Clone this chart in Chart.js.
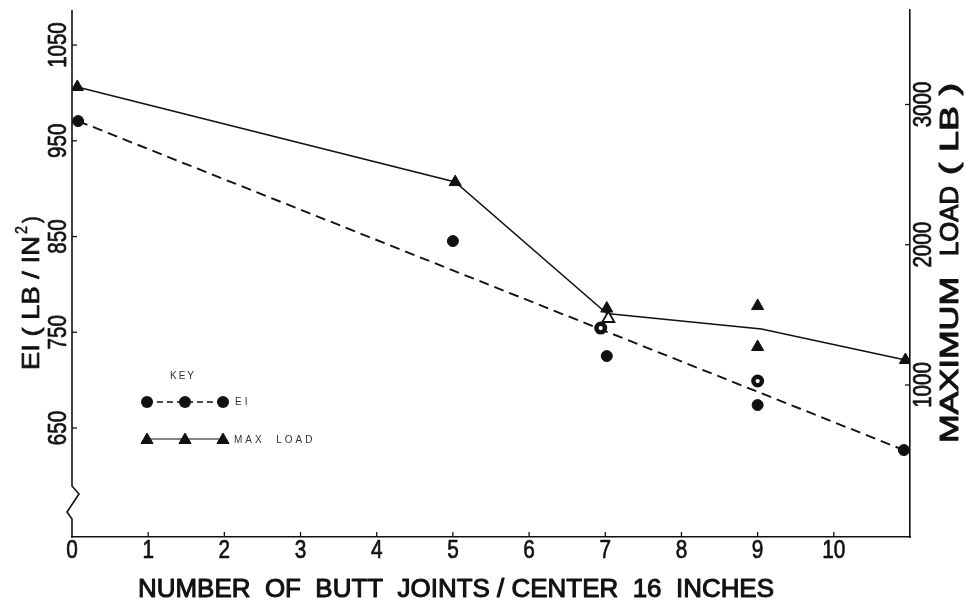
<!DOCTYPE html>
<html>
<head>
<meta charset="utf-8">
<script src="https://cdn.jsdelivr.net/npm/chart.js@4/dist/chart.umd.min.js"></script>
<style>
html,body{margin:0;padding:0;background:#fff;}
#wrap{width:964px;height:605px;position:relative;}
</style>
</head>
<body>
<div id="wrap"><canvas id="c"></canvas></div>
<script>
// ---- tick labels ----
const X_TICKS = [0,1,2,3,4,5,6,7,8,9,10];
const EI_TICKS = [650,750,850,950,1050];
const LOAD_TICKS = [1000,2000,3000];

// ---- EI series (left axis) ----
const eiX = [0.08, 5.0, 7.02, 9.0, 10.92];
const eiY = [970.6, 845.3, 725.2, 674.0, 627.0];
const eiOpenX = [6.94, 9.0];
const eiOpenY = [754.4, 699.1];
const eiFitX = [0.08, 10.92];
const eiFitY = [970.6, 627.0];

// ---- Max load series (right axis) ----
const loadX = [0.07, 5.03, 7.02, 9.0, 9.0, 10.94];
const loadY = [3125, 2447, 1545, 1563, 1271, 1178];
const loadOpenX = [7.04];
const loadOpenY = [1474];
const loadLineX = [0.07, 5.03, 7.02, 9.05, 10.94];
const loadLineY = [3125, 2447, 1510, 1399, 1178];

const pts = (xs, ys) => xs.map((x, i) => ({x, y: ys[i]}));
const INK = '#111';
const FONT = '"Liberation Sans", Arial, sans-serif';

function txt(ctx, s, x, y, o) {
  ctx.save();
  ctx.font = (o.weight || 'normal') + ' ' + o.size + 'px ' + FONT;
  ctx.fillStyle = o.color || INK;
  ctx.strokeStyle = o.color || INK;
  ctx.textBaseline = o.baseline || 'middle';
  ctx.letterSpacing = (o.ls || 0) + 'px';
  ctx.textAlign = o.align || 'center';
  ctx.translate(x, y);
  if (o.rot) ctx.rotate(o.rot);
  let sx = o.sx || 1;
  if (o.w) sx = o.w / ctx.measureText(s).width;
  ctx.scale(sx, 1);
  ctx.fillText(s, 0, 0);
  if (o.stroke) { ctx.lineWidth = o.stroke; ctx.lineJoin = 'round'; ctx.strokeText(s, 0, 0); }
  ctx.restore();
}
function tri(ctx, x, y, r, fill) {
  ctx.save();
  ctx.beginPath();
  for (let k = 0; k < 3; k++) {
    const a = k * 2 * Math.PI / 3;
    const px = x + Math.sin(a) * r, py = y - Math.cos(a) * r;
    k ? ctx.lineTo(px, py) : ctx.moveTo(px, py);
  }
  ctx.closePath();
  ctx.fillStyle = fill; ctx.strokeStyle = INK; ctx.lineWidth = 1;
  ctx.fill(); ctx.stroke();
  ctx.restore();
}
function dot(ctx, x, y, r) {
  ctx.save();
  ctx.beginPath(); ctx.arc(x, y, r, 0, Math.PI * 2);
  ctx.fillStyle = INK; ctx.fill();
  ctx.restore();
}

const decor = {
  id: 'decor',
  afterDraw(chart) {
    const ctx = chart.ctx;
    const a = chart.chartArea;
    const sx = chart.scales.x, sy = chart.scales.y, sy2 = chart.scales.y2;
    const L = a.left, R = a.right, B = a.bottom, T = a.top;
    ctx.save();
    ctx.strokeStyle = INK;
    ctx.lineWidth = 1.6;
    // left axis with break
    ctx.beginPath();
    ctx.moveTo(L, T); ctx.lineTo(L, 486); ctx.lineTo(L + 7, 494);
    ctx.lineTo(L - 5, 512); ctx.lineTo(L, 519); ctx.lineTo(L, B + 0.8);
    ctx.stroke();
    // tick marks
    ctx.lineWidth = 1.3;
    EI_TICKS.forEach(v => { const y = sy.getPixelForValue(v); ctx.beginPath(); ctx.moveTo(L, y); ctx.lineTo(L + 5, y); ctx.stroke(); });
    LOAD_TICKS.forEach(v => { const y = sy2.getPixelForValue(v); ctx.beginPath(); ctx.moveTo(R, y); ctx.lineTo(R - 5, y); ctx.stroke(); });
    X_TICKS.forEach(v => { if (!v) return; const x = sx.getPixelForValue(v); ctx.beginPath(); ctx.moveTo(x, B); ctx.lineTo(x, B - 5); ctx.stroke(); });
    ctx.restore();

    // tick labels
    const M = 0.7;
    X_TICKS.forEach(v => txt(ctx, String(v), sx.getPixelForValue(v), 551, {size: 26, sx: 0.8, stroke: M}));
    EI_TICKS.forEach(v => txt(ctx, String(v), 59, sy.getPixelForValue(v), {size: 25, sx: 0.82, stroke: M, rot: -Math.PI / 2}));
    LOAD_TICKS.forEach(v => txt(ctx, String(v), 924, sy2.getPixelForValue(v), {size: 25, sx: 0.82, stroke: M, rot: -Math.PI / 2}));

    // axis titles
    txt(ctx, 'NUMBER  OF  BUTT  JOINTS / CENTER  16  INCHES', 456, 590, {size: 25, w: 636, stroke: 1.0});
    // left title, bottom to top
    txt(ctx, 'EI ( LB / IN', 32, 370, {size: 24, w: 134, align: 'left', stroke: M, rot: -Math.PI / 2});
    txt(ctx, '2', 23, 234, {size: 16, sx: 0.9, align: 'left', stroke: 0.5, rot: -Math.PI / 2});
    txt(ctx, ')', 32, 223, {size: 24, sx: 0.85, align: 'left', stroke: M, rot: -Math.PI / 2});
    // right title, bottom to top
    txt(ctx, 'MAXIMUM', 951, 443, {size: 25, w: 166, align: 'left', stroke: 1.0, rot: -Math.PI / 2});
    txt(ctx, 'LOAD', 951, 256, {size: 25, w: 70, align: 'left', stroke: 1.0, rot: -Math.PI / 2});
    txt(ctx, '( LB )', 951, 175, {size: 25, w: 92, align: 'left', stroke: 1.0, rot: -Math.PI / 2});

    // key
    txt(ctx, 'KEY', 183, 376, {size: 10, ls: 2, color: '#333'});
    ctx.save();
    ctx.strokeStyle = INK; ctx.lineWidth = 1.5; ctx.setLineDash([6, 4]);
    ctx.beginPath(); ctx.moveTo(147, 402); ctx.lineTo(223, 402); ctx.stroke();
    ctx.setLineDash([]); ctx.lineWidth = 1.2;
    ctx.beginPath(); ctx.moveTo(147, 439); ctx.lineTo(223, 439); ctx.stroke();
    ctx.restore();
    [147, 185, 223].forEach(x => { dot(ctx, x, 402, 6); tri(ctx, x, 440, 7, INK); });
    txt(ctx, 'EI', 235, 402, {size: 10, ls: 3, color: '#333', align: 'left'});
    txt(ctx, 'MAX  LOAD', 234, 440, {size: 10, ls: 3, color: '#333', align: 'left'});
  }
};

new Chart(document.getElementById('c'), {
  type: 'scatter',
  data: {
    datasets: [
      {label: 'EI', data: pts(eiX, eiY), yAxisID: 'y', pointStyle: 'circle', pointRadius: 5.5,
       pointBorderWidth: 1, backgroundColor: INK, borderColor: INK, order: 0},
      {label: 'EI (open)', data: pts(eiOpenX, eiOpenY), yAxisID: 'y', pointStyle: 'circle', pointRadius: 4.3,
       pointBorderWidth: 4.4, backgroundColor: '#fff', borderColor: INK, order: 0},
      {label: 'Max load', data: pts(loadX, loadY), yAxisID: 'y2', pointStyle: 'triangle', pointRadius: 7,
       pointBorderWidth: 1, backgroundColor: INK, borderColor: INK, order: 0},
      {label: 'Max load (open)', data: pts(loadOpenX, loadOpenY), yAxisID: 'y2', pointStyle: 'triangle', pointRadius: 7,
       pointBorderWidth: 1.8, backgroundColor: '#fff', borderColor: INK, order: 2},
      {label: 'EI fit', data: pts(eiFitX, eiFitY), yAxisID: 'y', showLine: true, pointRadius: 0,
       borderColor: INK, borderWidth: 1.9, borderDash: [10, 6], order: 5},
      {label: 'Max load line', data: pts(loadLineX, loadLineY), yAxisID: 'y2', showLine: true, pointRadius: 0,
       borderColor: INK, borderWidth: 1.5, order: 5}
    ]
  },
  options: {
    responsive: true,
    maintainAspectRatio: false,
    animation: false,
    layout: {padding: {left: 72, right: 54, top: 10, bottom: 68}},
    plugins: {legend: {display: false}, tooltip: {enabled: false}},
    scales: {
      x: {type: 'linear', position: 'bottom', min: 0, max: 11,
          ticks: {display: false, stepSize: 1},
          grid: {display: false, drawTicks: false},
          border: {display: true, color: INK, width: 1.6}},
      y: {type: 'linear', position: 'left', min: 536.2, max: 1086.6,
          ticks: {display: false},
          grid: {display: false, drawTicks: false},
          border: {display: false}},
      y2: {type: 'linear', position: 'right', min: -83.8, max: 3673.8,
          ticks: {display: false},
          grid: {display: false, drawTicks: false},
          border: {display: true, color: INK, width: 1.6}}
    }
  },
  plugins: [decor]
});
</script>
</body>
</html>
